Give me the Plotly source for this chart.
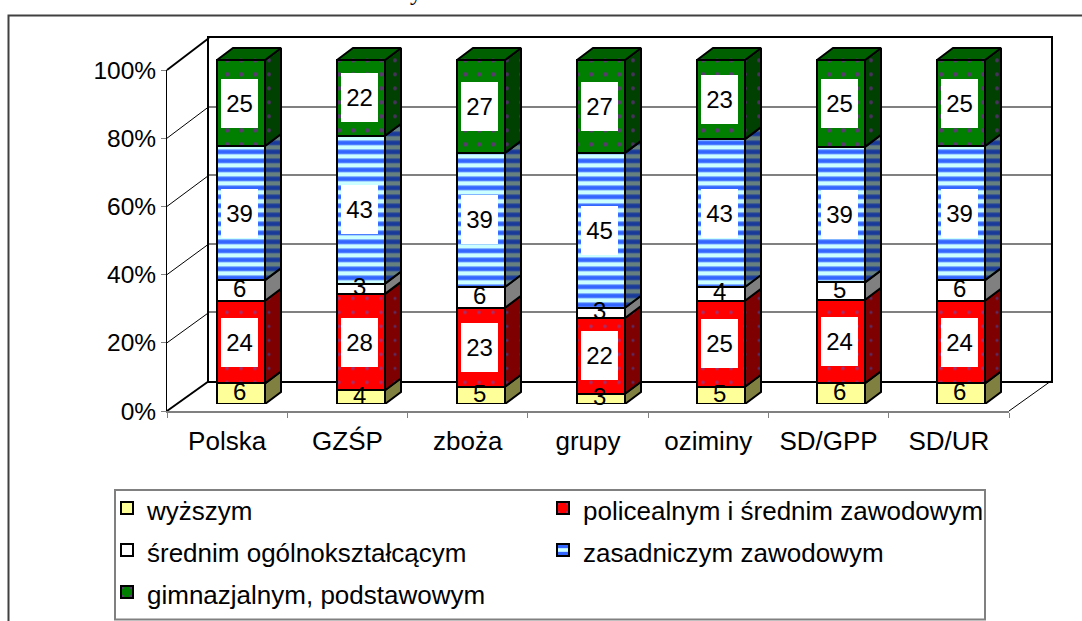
import plotly.graph_objects as go

W, H = 1082, 621

categories = ["Polska", "GZŚP", "zboża", "grupy", "oziminy", "SD/GPP", "SD/UR"]
series_names = ["wyższym", "policealnym i średnim zawodowym", "średnim ogólnokształcącym",
                "zasadniczym zawodowym", "gimnazjalnym, podstawowym"]
wyzszym = [6, 4, 5, 3, 5, 6, 6]
policealnym = [24, 28, 23, 22, 25, 24, 24]
ogolnoksztalcacym = [6, 3, 6, 3, 4, 5, 6]
zasadniczym = [39, 43, 39, 45, 43, 39, 39]
gimnazjalnym = [25, 22, 27, 27, 23, 25, 25]
series_values = [wyzszym, policealnym, ogolnoksztalcacym, zasadniczym, gimnazjalnym]
percent_ticks = [0, 20, 40, 60, 80, 100]

FONT = "Liberation Sans, Arial, sans-serif"
FRONT = ["#FFFF99", "#FF0000", "#FFFFFF", "#3366FF", "#007F00"]
SIDE = ["#808040", "#7F0000", "#808080", "#1A3A99", "#004000"]


def xp(px):
    return px / W


def yp(px):
    return 1 - px / H


def pat(shape, fg, bg, size, solidity):
    return dict(shape=shape, fgcolor=fg, bgcolor=bg, size=size, solidity=solidity,
                fgopacity=1, fillmode="replace")


def front_pattern(i):
    if i == 3:
        return pat("-", "#3366FF", "#CCFFFF", 9, 0.5)
    if i == 4:
        return pat(".", "#5A3A70", "#007F00", 14, 0.08)
    if i == 1:
        return pat(".", "#A03070", "#FF0000", 14, 0.05)
    return dict(shape="")


def side_pattern(i):
    if i == 3:
        return pat("-", "#1A3A99", "#668080", 9, 0.5)
    if i == 4:
        return pat(".", "#4A3060", "#004000", 14, 0.06)
    if i == 1:
        return pat(".", "#5A2A60", "#7F0000", 14, 0.04)
    return dict(shape="")


BAR_W = 48 / 120
DX = 16 / 120
DY = 12 / 3.44

fig = go.Figure()

# invisible traces that keep the back wall and the labelled front axes alive
fig.add_trace(go.Scatter(x=[0], y=[0], xaxis="x", yaxis="y", mode="markers",
                         marker=dict(opacity=0), showlegend=False, hoverinfo="skip"))
fig.add_trace(go.Scatter(x=categories, y=[0] * len(categories), xaxis="x2", yaxis="y2",
                         mode="markers", marker=dict(opacity=0), showlegend=False, hoverinfo="skip"))

idx = list(range(len(categories)))
totals = [sum(s[k] for s in series_values) for k in idx]

for i, (name, vals) in enumerate(zip(series_names, series_values)):
    fig.add_trace(go.Bar(x=idx, y=vals, name=f'<span style="font-size:26px">{name}</span>',
                         xaxis="x3", yaxis="y3", width=BAR_W,
                         marker=dict(color=FRONT[i], line=dict(color="black", width=2),
                                     pattern=front_pattern(i))))

annotations = []
for k in idx:
    base = 0.0
    for i, s in enumerate(series_values):
        v = s[k] * 100 / totals[k]
        x0 = k + BAR_W / 2
        px = [x0, x0 + DX, x0 + DX, x0, x0]
        py = [base, base + DY, base + v + DY, base + v, base]
        fig.add_trace(go.Scatter(x=px, y=py, xaxis="x3", yaxis="y3", mode="lines", fill="toself",
                                 fillcolor=SIDE[i], fillpattern=side_pattern(i),
                                 line=dict(color="black", width=2), showlegend=False, hoverinfo="skip"))
        boxed = s[k] >= 20
        annotations.append(dict(
            x=k - 2 / 120, y=base + v / 2, xref="x3", yref="y3", text=str(s[k]), showarrow=False,
            font=dict(family=FONT, size=24, color="black"), borderpad=0, borderwidth=0,
            bgcolor="white" if boxed else None, width=37 if boxed else None,
            height=49 if boxed else None, yshift=0 if boxed else 2))
        base += v
    # top face of the column
    x0, x1 = k - BAR_W / 2, k + BAR_W / 2
    fig.add_trace(go.Scatter(x=[x0, x0 + DX, x1 + DX, x1, x0], y=[100, 100 + DY, 100 + DY, 100, 100],
                             xaxis="x3", yaxis="y3", mode="lines", fill="toself", fillcolor="#006000",
                             fillpattern=pat(".", "#4A3060", "#006000", 14, 0.06),
                             line=dict(color="black", width=2), showlegend=False, hoverinfo="skip"))

# clipped remainder of the chart's heading above the frame
annotations.append(dict(x=xp(416), y=yp(7), xref="paper", yref="paper", text="y", showarrow=False,
                        xanchor="center", yanchor="bottom",
                        font=dict(family="Liberation Serif, Times New Roman, serif", size=24, color="black")))

WALL_L, WALL_R, WALL_T, WALL_B = 209, 1051, 38, 381
FL_L, FL_R, FL_T, FL_B = 167, 1009, 70, 411
B_L, B_R = 150, 1060
B_B, PX_PCT = 404, 3.44
B_TOPVAL = 106

shapes = [
    dict(type="rect", xref="paper", yref="paper", x0=xp(8.5), x1=xp(W + 20), y0=yp(15.5), y1=yp(H + 20),
         line=dict(color="#404040", width=2), layer="below"),
    # legend frame
    dict(type="rect", xref="paper", yref="paper", x0=xp(115), x1=xp(985), y0=yp(490), y1=yp(619.5),
         line=dict(color="#808080", width=2), fillcolor="white", layer="below"),
]
for t in percent_ticks:
    y_front = FL_B - (FL_B - FL_T) * t / 100
    y_back = WALL_B - (WALL_B - WALL_T) * t / 100
    heavy = t in (0, 100)
    shapes.append(dict(type="line", xref="paper", yref="paper", x0=xp(FL_L), x1=xp(WALL_L),
                       y0=yp(y_front), y1=yp(y_back), line=dict(color="black", width=2 if heavy else 1),
                       layer="below"))
shapes.append(dict(type="line", xref="paper", yref="paper", x0=xp(FL_R), x1=xp(WALL_R),
                   y0=yp(FL_B), y1=yp(WALL_B), line=dict(color="black", width=1), layer="below"))

fig.update_layout(
    width=W, height=H, margin=dict(l=0, r=0, t=0, b=0, autoexpand=False), paper_bgcolor="white",
    plot_bgcolor="rgba(0,0,0,0)",
    barmode="stack", barnorm="percent", shapes=shapes, annotations=annotations,
    font=dict(family=FONT, size=24, color="black"),
    xaxis=dict(domain=[xp(WALL_L), xp(WALL_R)], range=[0, 1], showgrid=False, showticklabels=False, ticks="",
               showline=True, mirror=True, linecolor="black", linewidth=2, zeroline=False, anchor="y", fixedrange=True),
    yaxis=dict(domain=[yp(WALL_B), yp(WALL_T)], range=[0, 100], tickvals=percent_ticks, showgrid=True,
               gridcolor="#808080", gridwidth=2, showticklabels=False, ticks="", showline=True, mirror=True,
               linecolor="black", linewidth=2, zeroline=False, anchor="x", fixedrange=True),
    xaxis2=dict(domain=[xp(FL_L), xp(FL_R)], type="category", categoryorder="array", categoryarray=categories,
                range=[-0.5, len(categories) - 0.5], tickson="boundaries", ticks="outside", ticklen=5,
                tickcolor="#808080", tickwidth=1, showline=True, linecolor="#808080", linewidth=2,
                ticklabelstandoff=6,
                showgrid=False, zeroline=False, anchor="y2", fixedrange=True, tickfont=dict(family=FONT, size=26)),
    yaxis2=dict(domain=[yp(FL_B), yp(FL_T)], range=[0, 100], tickvals=percent_ticks,
                ticktext=[f"{t}%" for t in percent_ticks],
                ticks="outside", ticklen=5, tickcolor="#808080", tickwidth=1, showline=True, linecolor="black",
                linewidth=1, showgrid=False, zeroline=False, anchor="x2", fixedrange=True,
                tickfont=dict(family=FONT, size=24.5)),
    xaxis3=dict(domain=[xp(B_L), xp(B_R)], range=[(B_L - 241) / 120, (B_R - 241) / 120], visible=False,
                anchor="y3", fixedrange=True),
    yaxis3=dict(domain=[yp(B_B), yp(B_B - B_TOPVAL * PX_PCT)], range=[0, B_TOPVAL], visible=False,
                anchor="x3", fixedrange=True),
    legend=dict(orientation="h", x=xp(117), y=yp(482), xanchor="left", yanchor="top", entrywidth=401,
                entrywidthmode="pixels", bgcolor="rgba(0,0,0,0)", borderwidth=0, indentation=-10,
                traceorder="normal", font=dict(family=FONT, size=30, color="black")),
)

fig.write_html("out.html", config={"displayModeBar": False},
               post_script="document.body.style.margin='0';document.body.style.overflow='hidden';")
